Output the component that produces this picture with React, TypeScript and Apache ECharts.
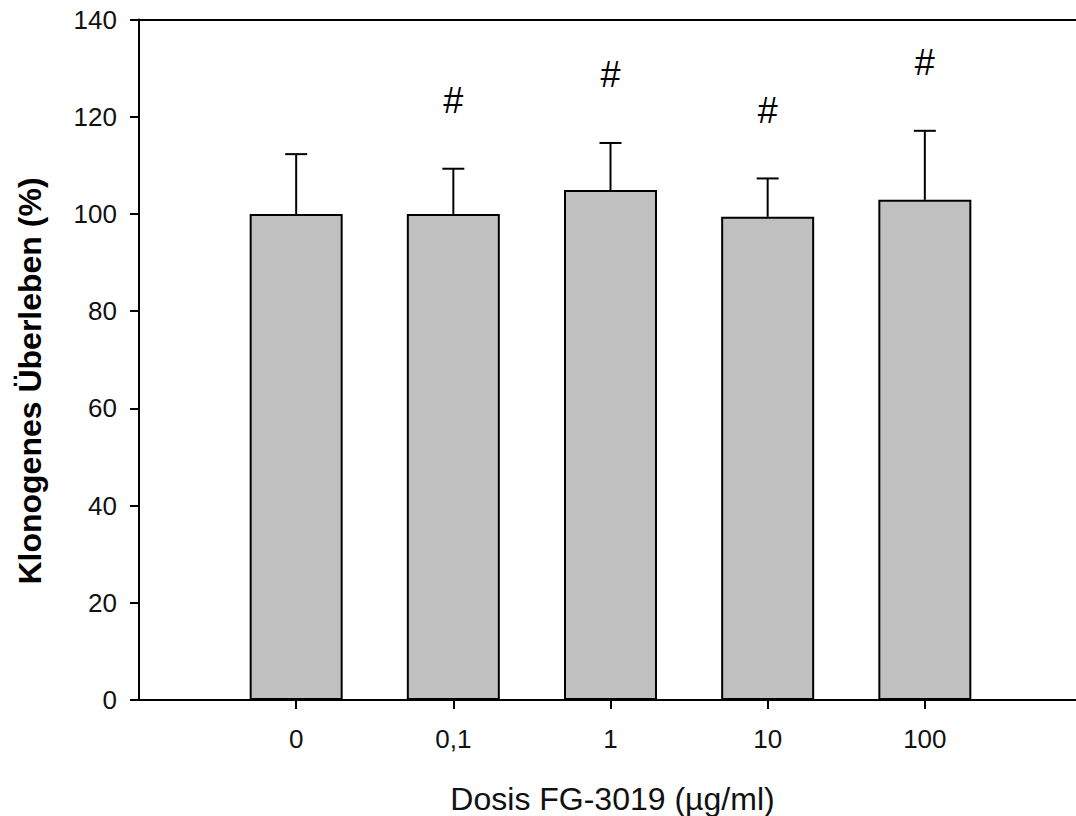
import React, { useEffect, useRef } from "react";
import * as echarts from "echarts";

const doses = ["0", "0,1", "1", "10", "100"];
const means = [100, 100, 104.9, 99.4, 102.9];
const sdUpper = [12.3, 9.3, 9.7, 7.9, 14.2];
const significant = [false, true, true, true, true];
const yTicks = { min: 0, max: 140, interval: 20 };

const FONT = "'Liberation Sans', Arial, Helvetica, sans-serif";

export default function App() {
  const ref = useRef<HTMLDivElement>(null);
  useEffect(() => {
    if (!ref.current) return;
    const chart = echarts.init(ref.current, null, { renderer: "svg" });
    const cats = ["", ...doses, ""];
    const barData: any[] = ["-", ...means, "-"];
    const errData = doses.map((_, i) => [i + 1, means[i], means[i] + sdUpper[i], significant[i] ? 1 : 0]);

    chart.setOption({
      animation: false,
      backgroundColor: "#fff",
      grid: { left: 139, top: 19.5, right: 0, bottom: 116, containLabel: false },
      xAxis: [
        {
          type: "category",
          data: cats,
          boundaryGap: false,
          axisLine: { show: true, lineStyle: { color: "#000", width: 2 } },
          axisTick: {
            show: true,
            length: 9,
            inside: false,
            lineStyle: { color: "#000", width: 2 },
            interval: (idx: number, val: string) => val !== "",
          },
          axisLabel: {
            show: true,
            interval: 0,
            margin: 26,
            fontFamily: FONT,
            fontSize: 26,
            color: "#111",
          },
          splitLine: { show: false },
        },
        {
          type: "value",
          position: "top",
          min: 0,
          max: 1,
          axisLine: { show: true, onZero: false, lineStyle: { color: "#000", width: 2 } },
          axisTick: { show: false },
          axisLabel: { show: false },
          splitLine: { show: false },
        },
      ],
      yAxis: {
        type: "value",
        min: yTicks.min,
        max: yTicks.max,
        interval: yTicks.interval,
        axisLine: { show: true, lineStyle: { color: "#000", width: 2 } },
        axisTick: { show: true, length: 9, lineStyle: { color: "#000", width: 2 } },
        axisLabel: { margin: 22, fontFamily: FONT, fontSize: 26, color: "#111" },
        splitLine: { show: false },
      },
      graphic: [
        {
          type: "text",
          x: 30,
          y: 381,
          rotation: Math.PI / 2,
          style: {
            text: "Klonogenes Überleben (%)",
            fontFamily: FONT,
            fontSize: 32,
            fontWeight: "bold",
            fill: "#000",
            textAlign: "center",
            textVerticalAlign: "middle",
          },
        },
        {
          type: "text",
          x: 612.5,
          y: 799,
          style: {
            text: "Dosis FG-3019 (µg/ml)",
            fontFamily: FONT,
            fontSize: 32,
            fill: "#111",
            textAlign: "center",
            textVerticalAlign: "middle",
          },
        },
      ],
      series: [
        {
          type: "bar",
          data: barData,
          barWidth: 93,
          itemStyle: { color: "#c0c0c0", borderColor: "#000", borderWidth: 2 },
          z: 2,
        },
        {
          type: "custom",
          data: errData,
          z: 3,
          renderItem: (params: any, api: any) => {
            const idx = api.value(0);
            const m = api.value(1);
            const top = api.value(2);
            const sig = api.value(3);
            const p0 = api.coord([idx, m]);
            const p1 = api.coord([idx, top]);
            const cap = 11;
            const children: any[] = [
              { type: "line", shape: { x1: p0[0], y1: p0[1], x2: p1[0], y2: p1[1] }, style: { stroke: "#000", lineWidth: 2 } },
              { type: "line", shape: { x1: p1[0] - cap, y1: p1[1], x2: p1[0] + cap, y2: p1[1] }, style: { stroke: "#000", lineWidth: 2 } },
            ];
            if (sig) {
              children.push({
                type: "text",
                x: p1[0],
                y: p1[1] - 68,
                style: {
                  text: "#",
                  fontFamily: FONT,
                  fontSize: 36,
                  fill: "#000",
                  textAlign: "center",
                  textVerticalAlign: "middle",
                },
              });
            }
            return { type: "group", children };
          },
        },
      ],
    });
    return () => chart.dispose();
  }, []);
  return (
    <div style={{ position: "fixed", left: 0, top: 0, width: 1076, height: 816, overflow: "hidden" }}>
      <div ref={ref} style={{ width: 1084.5, height: 816 }} />
    </div>
  );
}
